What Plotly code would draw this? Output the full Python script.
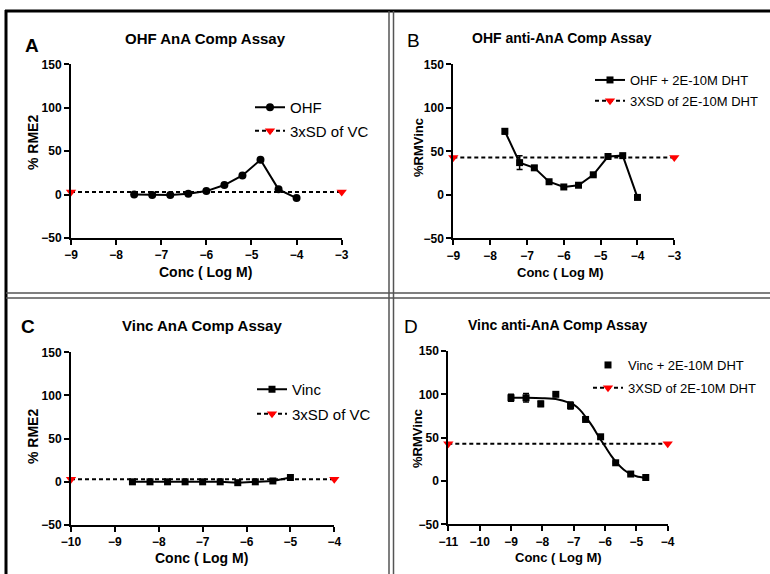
import plotly.graph_objects as go

W, H = 770, 574

# ---------------- data ----------------
a_x = [-7.6, -7.2, -6.8, -6.4, -6.0, -5.6, -5.2, -4.8, -4.4, -4.0]
a_y = [0, -0.5, -0.5, 1, 4, 11, 22, 40, 6, -4]
a_sd_x = [-9, -3]
a_sd_y = [3, 3]

b_x = [-7.6, -7.2, -6.8, -6.4, -6.0, -5.6, -5.2, -4.8, -4.4, -4.0]
b_y = [73, 37, 31, 15, 9, 11, 23, 44, 45, -3]
b_err = [3, 8, 2, 1, 1, 1, 1, 1, 1, 1]
b_sd_x = [-9, -3]
b_sd_y = [43, 43]

c_x = [-8.6, -8.2, -7.8, -7.4, -7.0, -6.6, -6.2, -5.8, -5.4, -5.0]
c_y = [0, 0, 0, 0, 0, 0, -1, 0, 1, 5]
c_sd_x = [-10, -4]
c_sd_y = [3, 3]

d_x = [-9.0, -8.52, -8.05, -7.57, -7.1, -6.62, -6.14, -5.66, -5.18, -4.7]
d_y = [96, 96, 89, 100, 87, 71, 51, 21, 8, 4]
d_err = [4, 5, 3, 1, 4, 1, 2, 1, 1, 1]
d_fit_x = [-9.0, -8.5, -8.0, -7.5, -7.2, -7.0, -6.8, -6.6, -6.4, -6.2, -6.0, -5.8, -5.6, -5.4, -5.2, -5.0, -4.7]
d_fit_y = [96, 96, 95.5, 94, 91, 88, 82, 73, 63, 51, 40, 29, 20, 13, 8.5, 5.5, 3.5]
d_sd_x = [-11, -4]
d_sd_y = [43, 43]

y_ticks = [-50, 0, 50, 100, 150]

# ---------------- helpers (layout geometry in pixels) ----------------
def px(x):
    return x / W

def py(y):
    return 1 - y / H

FONT = "Liberation Sans, Arial, sans-serif"

fig = go.Figure()

def add_series(n, x, y, name, symbol, size, legend, err=None, mode="lines+markers"):
    fig.add_trace(go.Scatter(
        x=x, y=y, mode=mode, name=name,
        xaxis="x" + n, yaxis="y" + n,
        line=dict(color="black", width=2),
        marker=dict(symbol=symbol, size=size, color="black"),
        error_y=(dict(type="data", array=err, color="black", thickness=1.5, width=3)
                 if err is not None else None),
        cliponaxis=False, legend=legend, legendgroup=name + legend,
    ))

def add_sd(n, x, y, name, legend):
    fig.add_trace(go.Scatter(
        x=x, y=y, mode="lines+markers", name=name,
        xaxis="x" + n, yaxis="y" + n,
        line=dict(color="black", width=2, dash="4px,3px"),
        marker=dict(symbol="triangle-down", size=9, color="red"),
        cliponaxis=False, legend=legend, legendgroup=name + legend,
    ))

add_series("", a_x, a_y, "OHF", "circle", 8, "legend")
add_sd("", a_sd_x, a_sd_y, "3xSD of VC", "legend")

add_series("2", b_x, b_y, "OHF + 2E-10M DHT", "square", 7, "legend2", err=b_err)
add_sd("2", b_sd_x, b_sd_y, "3XSD of 2E-10M DHT", "legend2")

add_series("3", c_x, c_y, "Vinc", "square", 7, "legend3")
add_sd("3", c_sd_x, c_sd_y, "3xSD of VC", "legend3")

add_series("4", d_x, d_y, "Vinc + 2E-10M DHT", "square", 7, "legend4", err=d_err, mode="markers")
fig.add_trace(go.Scatter(
    x=d_fit_x, y=d_fit_y, mode="lines", line=dict(color="black", width=2, shape="spline"),
    xaxis="x4", yaxis="y4", showlegend=False, cliponaxis=False, hoverinfo="skip",
))
add_sd("4", d_sd_x, d_sd_y, "3XSD of 2E-10M DHT", "legend4")

# ---------------- axes ----------------
panels = {
    "": (71, 341.7, 64.3, 238, [-9, -3]),
    "2": (453.3, 674.3, 64.3, 238.3, [-9, -3]),
    "3": (71, 334.3, 352.3, 525, [-10, -4]),
    "4": (448.3, 667.7, 351, 524.3, [-11, -4]),
}

layout_axes = {}
for n, (x0, x1, yt, yb, xr) in panels.items():
    common = dict(showline=True, linecolor="black", linewidth=2, ticks="outside",
                  ticklen=5, tickwidth=2, tickcolor="black", showgrid=False, zeroline=False,
                  tickfont=dict(family=FONT, size=12, color="black", weight="bold"))
    layout_axes["xaxis" + n] = dict(domain=[px(x0), px(x1)], range=xr, dtick=1, tick0=0,
                                    anchor="y" + n, **common)
    layout_axes["yaxis" + n] = dict(domain=[py(yb), py(yt)], range=[-50, 150], tickvals=y_ticks,
                                    anchor="x" + n, **common)

fig.update_layout(**layout_axes)

# ---------------- legends ----------------
def leg(x, y, size, gap):
    return dict(x=px(x), y=py(y), xanchor="left", yanchor="top", bgcolor="rgba(0,0,0,0)",
                font=dict(family=FONT, size=size, color="black"), itemwidth=30,
                tracegroupgap=gap, borderwidth=0)

fig.update_layout(
    legend=leg(250, 91, 15, 1),
    legend2=leg(590, 65, 13, 1),
    legend3=leg(252, 373, 15, 2),
    legend4=leg(588, 350, 13, 3),
)

# ---------------- text ----------------
ann = []
def text(x, y, s, size, bold=True, angle=0):
    ann.append(dict(x=px(x), y=py(y), xref="paper", yref="paper", text=s, showarrow=False,
                    xanchor="center", yanchor="middle", textangle=angle,
                    font=dict(family=FONT, size=size, color="black",
                              weight="bold" if bold else "normal")))

text(32, 45, "A", 19)
text(413, 41, "B", 19, bold=False)
text(28, 326, "C", 19)
text(411, 326, "D", 19, bold=False)

text(206, 38, "OHF AnA Comp Assay", 15)
text(562, 38, "OHF anti-AnA Comp Assay", 14)
text(202, 325, "Vinc AnA Comp Assay", 15)
text(557, 325, "Vinc anti-AnA Comp Assay", 14)

text(206, 272, "Conc ( Log M)", 14)
text(560, 272, "Conc ( Log M)", 13)
text(202, 558, "Conc ( Log M)", 14)
text(558, 557, "Conc ( Log M)", 13)

text(33, 143, "% RME2", 14, angle=-90)
text(418, 147, "%RMVinc", 13, angle=-90)
text(33, 437, "% RME2", 14, angle=-90)
text(418, 438, "%RMVinc", 13, angle=-90)

# ---------------- frame ----------------
shapes = []
def hline(y, x0, x1, w, c):
    shapes.append(dict(type="line", xref="paper", yref="paper", x0=px(x0), x1=px(x1),
                       y0=py(y), y1=py(y), line=dict(color=c, width=w)))

def vline(x, y0, y1, w, c):
    shapes.append(dict(type="line", xref="paper", yref="paper", x0=px(x), x1=px(x),
                       y0=py(y0), y1=py(y1), line=dict(color=c, width=w)))

hline(11, 5, 770, 3, "black")
vline(6, 10, 574, 3, "black")
vline(389, 11, 574, 1.5, "#555555")
vline(393.5, 11, 574, 1.5, "#555555")
hline(293, 6, 770, 1.5, "#555555")
hline(298, 6, 770, 1.5, "#555555")

fig.update_layout(
    width=W, height=H, margin=dict(l=0, r=0, t=0, b=0, autoexpand=False),
    paper_bgcolor="white", plot_bgcolor="white",
    annotations=ann, shapes=shapes,
    font=dict(family=FONT, color="black"),
)

fig.write_html(
    "out.html",
    config={"displayModeBar": False},
    post_script="document.body.style.margin='0';document.body.style.overflow='hidden';",
)
